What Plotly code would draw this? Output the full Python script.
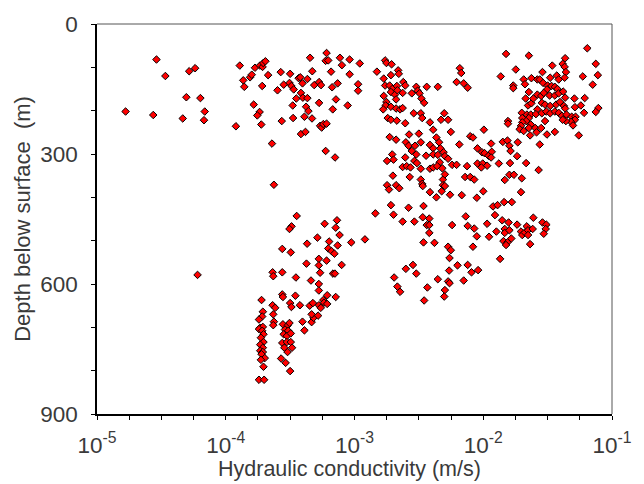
import plotly.graph_objects as go

# (log10 hydraulic conductivity [m/s], depth below surface [m])
far_left = [(-4.778, 202), (-4.538, 82), (-4.469, 120), (-4.563, 210), (-4.334, 218), (-4.306, 169),
            (-4.284, 109), (-4.238, 102), (-4.197, 171), (-4.163, 202), (-4.169, 222), (-4.219, 579)]

upper_mid = [(-3.891, 96), (-3.864, 130), (-3.856, 145), (-3.811, 123), (-3.798, 117), (-3.773, 101),
             (-3.735, 96), (-3.714, 99), (-3.709, 90), (-3.692, 86), (-3.671, 118), (-3.717, 143),
             (-3.783, 186), (-3.737, 203), (-3.755, 211), (-3.724, 232), (-3.921, 236), (-3.641, 276),
             (-3.598, 153), (-3.573, 111), (-3.565, 224), (-3.55, 140), (-3.5, 115), (-3.505, 136),
             (-3.49, 143), (-3.472, 151), (-3.48, 188), (-3.477, 217), (-3.452, 172), (-3.434, 125),
             (-3.421, 123), (-3.404, 137), (-3.416, 159), (-3.401, 170), (-3.366, 127), (-3.366, 171),
             (-3.389, 214), (-3.376, 191), (-3.358, 201), (-3.33, 218), (-3.416, 254), (-3.381, 249),
             (-3.345, 78), (-3.328, 109), (-3.313, 141), (-3.275, 134), (-3.26, 141), (-3.275, 182),
             (-3.267, 235), (-3.255, 239), (-3.242, 231), (-3.217, 230), (-3.224, 293), (-3.217, 67),
             (-3.224, 85), (-3.204, 84), (-3.182, 110), (-3.174, 146), (-3.144, 174), (-3.131, 137),
             (-3.169, 197), (-3.113, 78), (-3.098, 95), (-3.053, 188), (-3.038, 82), (-3.038, 116),
             (-3.151, 308), (-2.959, 91), (-2.972, 139), (-2.972, 154), (-3.626, 371)]

upper_centre = [(-2.826, 110), (-2.762, 84), (-2.752, 90), (-2.712, 93), (-2.661, 107), (-2.656, 115),
                (-2.717, 118), (-2.773, 126), (-2.762, 142), (-2.727, 142), (-2.707, 150), (-2.717, 157),
                (-2.686, 163), (-2.671, 143), (-2.667, 153), (-2.621, 134), (-2.606, 142), (-2.626, 159),
                (-2.773, 166), (-2.752, 180), (-2.758, 188), (-2.717, 191), (-2.777, 197), (-2.677, 174),
                (-2.677, 195), (-2.646, 197), (-2.626, 194), (-2.742, 217), (-2.717, 221), (-2.671, 223),
                (-2.606, 229), (-2.555, 160), (-2.52, 145), (-2.51, 154), (-2.495, 160), (-2.48, 172),
                (-2.459, 182), (-2.439, 145), (-2.353, 145), (-2.54, 206), (-2.485, 206), (-2.474, 217),
                (-2.414, 227), (-2.328, 221), (-2.303, 206), (-2.273, 221), (-2.252, 249), (-2.182, 102),
                (-2.171, 113), (-2.207, 134), (-2.152, 137), (-2.121, 147), (-1.995, 244), (-2.727, 261),
                (-2.677, 267), (-2.576, 255), (-2.5, 253), (-2.389, 244), (-2.364, 262), (-2.343, 273),
                (-2.601, 273), (-2.58, 281), (-2.555, 293), (-2.485, 273), (-2.53, 281), (-2.414, 279),
                (-2.389, 287), (-2.333, 287), (-2.308, 296), (-2.707, 301), (-2.697, 313), (-2.747, 316),
                (-2.606, 308), (-2.52, 301), (-2.535, 316), (-2.444, 304), (-2.389, 301), (-2.353, 302),
                (-2.298, 305), (-2.273, 311), (-2.338, 319), (-2.626, 330), (-2.595, 328), (-2.565, 331),
                (-2.515, 321), (-2.485, 334), (-2.414, 334), (-2.389, 331), (-2.358, 328), (-2.318, 333),
                (-2.242, 325), (-2.207, 325), (-2.702, 350), (-2.571, 353), (-2.485, 359), (-2.313, 359),
                (-2.298, 347), (-2.141, 353), (-2.101, 353), (-2.07, 359), (-2.126, 328), (-2.186, 278),
                (-2.101, 259), (-2.08, 262), (-2.045, 287), (-2.01, 296), (-1.99, 298), (-1.959, 304),
                (-2.045, 322), (-2.004, 322), (-1.97, 327), (-2.015, 331)]

lower_centre = [(-2.747, 372), (-2.732, 382), (-2.677, 372), (-2.652, 379), (-2.474, 369), (-2.47, 374),
                (-2.414, 388), (-2.364, 400), (-2.323, 386), (-2.313, 372), (-2.298, 374), (-2.258, 394),
                (-2.167, 395), (-2.05, 401), (-2.0, 386), (-2.838, 437), (-2.717, 418), (-2.697, 440),
                (-2.626, 456), (-2.58, 424), (-2.535, 456), (-2.464, 420), (-2.47, 446), (-2.419, 449),
                (-2.439, 464), (-2.419, 464), (-2.419, 482), (-2.242, 464), (-2.136, 444), (-2.121, 466),
                (-2.07, 472), (-1.97, 461), (-2.05, 490), (-1.955, 491), (-1.924, 421), (-1.909, 441),
                (-1.898, 479), (-2.464, 504), (-2.379, 505), (-2.273, 514), (-2.252, 522), (-2.262, 540),
                (-2.08, 514), (-2.2, 557), (-2.121, 556), (-2.091, 573), (-2.04, 568), (-2.265, 569),
                (-2.601, 565), (-2.546, 556), (-2.52, 576), (-2.692, 585), (-2.353, 589), (-2.273, 594),
                (-2.262, 598), (-2.152, 592), (-2.667, 606), (-2.646, 618), (-2.434, 608), (-2.298, 614),
                (-2.303, 629), (-2.459, 638)]

upper_right = [(-1.823, 69), (-1.646, 73), (-1.192, 56), (-1.364, 79), (-1.126, 92), (-1.747, 105),
               (-1.464, 96), (-1.383, 92), (-1.368, 99), (-1.358, 111), (-1.368, 124), (-1.54, 111),
               (-1.227, 121), (-1.11, 118), (-1.864, 121), (-1.767, 142), (-1.767, 148), (-1.686, 128),
               (-1.676, 139), (-1.626, 125), (-1.58, 128), (-1.561, 128), (-1.48, 124), (-1.429, 119),
               (-1.414, 128), (-1.535, 136), (-1.5, 142), (-1.47, 143), (-1.444, 145), (-1.505, 151),
               (-1.424, 150), (-1.646, 157), (-1.58, 163), (-1.55, 166), (-1.53, 159), (-1.485, 165),
               (-1.444, 165), (-1.414, 160), (-1.379, 156), (-1.364, 170), (-1.671, 172), (-1.652, 188),
               (-1.626, 183), (-1.611, 172), (-1.545, 182), (-1.52, 186), (-1.48, 189), (-1.434, 186),
               (-1.404, 180), (-1.374, 189), (-1.364, 195), (-1.292, 172), (-1.212, 171), (-1.242, 188),
               (-1.288, 192), (-1.106, 194), (-1.126, 203), (-1.217, 205), (-1.701, 205), (-1.661, 209),
               (-1.631, 209), (-1.58, 197), (-1.591, 208), (-1.545, 206), (-1.51, 202), (-1.48, 206),
               (-1.444, 202), (-1.414, 205), (-1.389, 212), (-1.353, 209), (-1.313, 214), (-1.283, 214),
               (-1.288, 221), (-1.318, 226), (-1.358, 224), (-1.383, 221), (-1.303, 234), (-1.258, 257),
               (-1.697, 217), (-1.646, 217), (-1.667, 224), (-1.697, 227), (-1.631, 232), (-1.707, 235),
               (-1.717, 243), (-1.686, 247), (-1.646, 240), (-1.596, 240), (-1.55, 240), (-1.52, 224),
               (-1.636, 257), (-1.586, 250), (-1.505, 255), (-1.444, 249), (-1.561, 278), (-1.808, 224),
               (-1.808, 230), (-1.848, 272), (-1.812, 269), (-1.797, 281), (-1.732, 273), (-1.788, 293),
               (-1.737, 305), (-1.939, 276), (-1.934, 295), (-1.939, 308), (-1.879, 322), (-1.792, 321),
               (-1.667, 321), (-1.57, 337), (-1.797, 348), (-1.762, 348), (-1.701, 356), (-1.833, 360),
               (-1.15, 140)]

lower_right = [(-1.707, 388), (-1.889, 418), (-1.838, 411), (-1.778, 411), (-1.853, 453), (-1.803, 458),
               (-1.737, 463), (-1.611, 447), (-1.833, 473), (-1.833, 482), (-1.797, 476), (-1.707, 479),
               (-1.697, 487), (-1.677, 481), (-1.662, 467), (-1.652, 476), (-1.616, 473), (-1.652, 487),
               (-1.54, 458), (-1.51, 463), (-1.515, 473), (-1.53, 484), (-1.843, 501), (-1.812, 504),
               (-1.782, 495), (-1.823, 510), (-1.636, 508), (-1.869, 542)]

lower_mid = [(-3.449, 443), (-3.489, 467), (-3.505, 473), (-3.232, 461), (-3.136, 453), (-3.146, 470),
             (-3.116, 487), (-3.025, 504), (-2.919, 497), (-3.288, 493), (-3.197, 502), (-3.368, 507),
             (-3.131, 511), (-3.204, 518), (-3.179, 524), (-3.156, 530), (-3.561, 519), (-3.495, 527),
             (-3.373, 553), (-3.277, 542), (-3.277, 557), (-3.217, 546), (-3.1, 556), (-3.167, 576),
             (-3.152, 576), (-3.267, 574), (-3.636, 573), (-3.631, 582), (-3.561, 573), (-3.455, 585),
             (-3.338, 592), (-3.277, 600), (-3.277, 615), (-3.561, 624), (-3.556, 630), (-3.459, 627),
             (-3.212, 626), (-3.146, 630), (-3.242, 637), (-3.722, 637), (-3.636, 649), (-3.616, 655),
             (-3.5, 644), (-3.49, 653), (-3.424, 649), (-3.348, 650), (-3.323, 644), (-3.277, 649),
             (-3.262, 655), (-3.237, 643), (-3.212, 646)]

deep = [(-3.712, 664), (-3.717, 675), (-3.742, 682), (-3.732, 701), (-3.712, 699), (-3.742, 704),
        (-3.717, 708), (-3.707, 716), (-3.727, 724), (-3.707, 734), (-3.732, 740), (-3.712, 747),
        (-3.732, 754), (-3.712, 757), (-3.722, 762), (-3.697, 771), (-3.727, 775), (-3.707, 791),
        (-3.742, 821), (-3.702, 821), (-3.631, 670), (-3.626, 687), (-3.631, 695), (-3.556, 693),
        (-3.52, 696), (-3.505, 690), (-3.54, 705), (-3.515, 708), (-3.55, 716), (-3.525, 720),
        (-3.495, 714), (-3.561, 736), (-3.525, 734), (-3.495, 734), (-3.545, 747), (-3.485, 747),
        (-3.52, 757), (-3.57, 772), (-3.535, 782), (-3.5, 801), (-3.389, 707), (-3.404, 687),
        (-3.333, 688), (-3.318, 678), (-3.333, 670), (-3.283, 673)]

groups = [far_left, upper_mid, upper_centre, lower_centre, upper_right, lower_right, lower_mid, deep]

x_tick_values = [1e-5, 1e-4, 1e-3, 1e-2, 1e-1]
x_tick_labels = ["10<sup>-5</sup>", "10<sup>-4</sup>", "10<sup>-3</sup>", "10<sup>-2</sup>", "10<sup>-1</sup>"]
y_tick_values = [0, 300, 600, 900]
y_tick_labels = ["0", "300", "600", "900"]
y_minor_values = [100, 200, 400, 500, 700, 800]

k_values = []
depth_values = []
for g in groups:
    for lk, d in g:
        k_values.append(10 ** lk)
        depth_values.append(d)

TEXT = "#3a3a3a"
FONT = "Liberation Sans, Arial, sans-serif"

fig = go.Figure()
fig.add_trace(go.Scatter(
    x=k_values, y=depth_values, mode="markers",
    marker=dict(symbol="diamond", size=5.8, color="#ff0000",
                line=dict(color="#000000", width=1)),
    showlegend=False, hoverinfo="x+y"))

x_minor = [10 ** (-5 + 0.25 * i) for i in range(17) if i % 4 != 0]

fig.update_layout(
    width=644, height=484,
    margin=dict(l=97, r=19, t=21, b=70),
    paper_bgcolor="white", plot_bgcolor="white",
    font=dict(family=FONT, color=TEXT),
    xaxis=dict(type="log", range=[-5.00001, -0.99999], showgrid=False, zeroline=False,
               tickmode="array", tickvals=x_tick_values, ticktext=x_tick_labels,
               ticks="outside", ticklen=4, tickwidth=1, tickcolor="black",
               showline=True, linecolor="black", linewidth=1.5, ticklabeloverflow="allow",
               tickfont=dict(size=22.5, color=TEXT, family=FONT), ticklabelstandoff=6,
               minor=dict(tickmode="array", tickvals=x_minor, ticks="outside", ticklen=4,
                          tickwidth=1, tickcolor="black")),
    yaxis=dict(range=[900, 0], showgrid=False, zeroline=False,
               tickmode="array", tickvals=y_tick_values, ticktext=y_tick_labels,
               ticks="outside", ticklen=4, tickwidth=1, tickcolor="black",
               showline=True, linecolor="black", linewidth=1.5, ticklabeloverflow="allow",
               tickfont=dict(size=22.5, color=TEXT, family=FONT), ticklabelstandoff=9,
               minor=dict(tickmode="array", tickvals=y_minor_values, ticks="outside", ticklen=4,
                          tickwidth=1, tickcolor="black")),
    shapes=[
        dict(type="line", xref="paper", yref="paper", x0=0, x1=1, y0=1, y1=1,
             line=dict(color="#555555", width=1)),
        dict(type="line", xref="paper", yref="paper", x0=1, x1=1, y0=0, y1=1,
             line=dict(color="#555555", width=1)),
    ],
    annotations=[
        dict(text="Hydraulic conductivity (m/s)", xref="paper", yref="paper",
             x=0.49, y=-0.178, xanchor="center", yanchor="bottom", showarrow=False,
             font=dict(size=21.5, color=TEXT, family=FONT)),
        dict(text="Depth below surface&nbsp; (m)", xref="paper", yref="paper",
             x=-0.146, y=0.5, xanchor="center", yanchor="middle", showarrow=False,
             textangle=-90, font=dict(size=22, color=TEXT, family=FONT)),
    ],
)

fig.write_html("out.html", config={"displayModeBar": False},
               post_script="document.body.style.margin='0';document.body.style.overflow='hidden';")
